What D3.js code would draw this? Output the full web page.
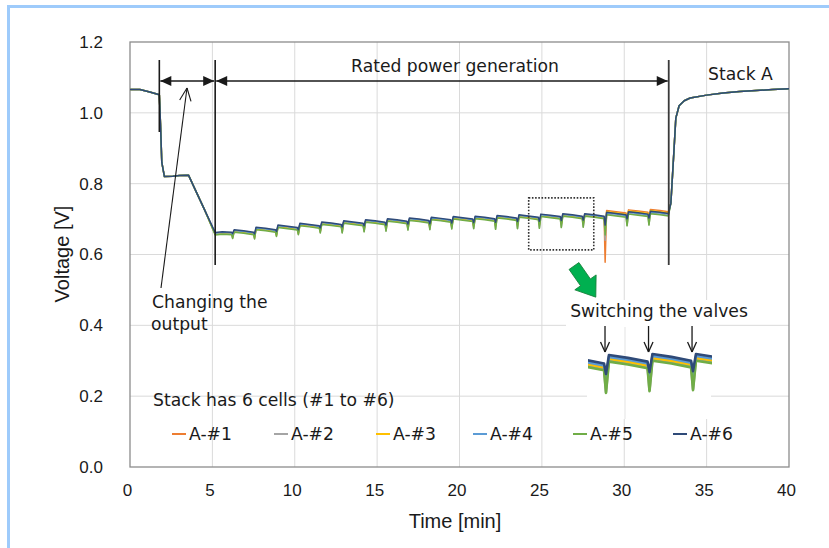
<!DOCTYPE html>
<html><head><meta charset="utf-8">
<script src="https://cdn.jsdelivr.net/npm/d3@7/dist/d3.min.js"></script>
<style>body{margin:0;background:#fff}svg{display:block}</style>
</head><body>
<svg id="chart" width="829" height="548"></svg>
<script>
// ---------- DATA ----------
const timeMin = [
  0, 0.6, 1.2, 1.78, 1.85, 1.93, 2.09, 2.6, 3.0, 3.55, 4.0, 4.5, 5.17, 5.6,
  6.17, 6.23, 6.32, 6.90,   7.50, 7.56, 7.65, 8.23,   8.83, 8.89, 8.98, 9.56,
  10.16, 10.22, 10.31, 10.89, 11.49, 11.55, 11.64, 12.22, 12.82, 12.88, 12.97, 13.55,
  14.15, 14.21, 14.30, 14.88, 15.48, 15.54, 15.63, 16.21, 16.81, 16.87, 16.96, 17.54,
  18.14, 18.20, 18.29, 18.87, 19.47, 19.53, 19.62, 20.20, 20.80, 20.86, 20.95, 21.53,
  22.13, 22.19, 22.28, 22.86, 23.46, 23.52, 23.61, 24.19, 24.79, 24.85, 24.94, 25.52,
  26.12, 26.18, 26.27, 26.85, 27.45, 27.51, 27.60, 28.18, 28.78, 28.84, 28.93, 29.51,
  30.11, 30.17, 30.26, 30.84, 31.44, 31.50, 31.59, 32.17,
  32.68, 32.83, 33.0, 33.13, 33.33, 33.64, 34.0, 35.0, 36.0, 37.0, 38.0, 39.0, 40.0
];
const cellA1 = [
  1.066, 1.066, 1.059, 1.051, 0.970, 0.860, 0.820, 0.821, 0.823, 0.824, 0.779, 0.729, 0.658, 0.660,
  0.659, 0.651, 0.666, 0.663,  0.659, 0.650, 0.673, 0.670,  0.666, 0.657, 0.679, 0.676,
  0.672, 0.662, 0.684, 0.681,  0.677, 0.667, 0.688, 0.685,  0.681, 0.670, 0.691, 0.688,
  0.684, 0.673, 0.694, 0.691,  0.687, 0.675, 0.697, 0.694,  0.690, 0.678, 0.699, 0.696,
  0.692, 0.679, 0.701, 0.698,  0.694, 0.681, 0.703, 0.700,  0.696, 0.682, 0.704, 0.701,
  0.697, 0.683, 0.706, 0.703,  0.699, 0.685, 0.708, 0.705,  0.701, 0.686, 0.710, 0.707,
  0.703, 0.688, 0.711, 0.708,  0.704, 0.689, 0.711, 0.708,  0.704, 0.578, 0.724, 0.721,
  0.717, 0.704, 0.726, 0.723,  0.719, 0.706, 0.727, 0.724,
  0.721, 0.745, 0.880, 0.985, 1.020, 1.034, 1.042, 1.050, 1.056, 1.060, 1.063, 1.066, 1.068
];
const cellA2 = [
  1.066, 1.066, 1.059, 1.051, 0.970, 0.860, 0.820, 0.821, 0.823, 0.824, 0.779, 0.729, 0.657, 0.659,
  0.658, 0.646, 0.665, 0.662,  0.658, 0.645, 0.672, 0.669,  0.665, 0.652, 0.678, 0.675,
  0.671, 0.657, 0.683, 0.680,  0.676, 0.662, 0.687, 0.684,  0.680, 0.662, 0.690, 0.687,
  0.683, 0.665, 0.693, 0.690,  0.686, 0.667, 0.696, 0.693,  0.689, 0.670, 0.698, 0.695,
  0.691, 0.671, 0.700, 0.697,  0.693, 0.673, 0.702, 0.699,  0.695, 0.674, 0.703, 0.700,
  0.696, 0.672, 0.705, 0.702,  0.698, 0.674, 0.707, 0.704,  0.700, 0.675, 0.709, 0.706,
  0.702, 0.677, 0.710, 0.707,  0.703, 0.678, 0.710, 0.707,  0.703, 0.640, 0.714, 0.711,
  0.707, 0.682, 0.716, 0.713,  0.709, 0.684, 0.717, 0.714,
  0.711, 0.745, 0.880, 0.985, 1.020, 1.034, 1.042, 1.050, 1.056, 1.060, 1.063, 1.066, 1.068
];
const cellA3 = [
  1.066, 1.066, 1.059, 1.051, 0.970, 0.860, 0.820, 0.821, 0.823, 0.824, 0.779, 0.729, 0.658, 0.660,
  0.659, 0.649, 0.666, 0.663,  0.659, 0.648, 0.673, 0.670,  0.666, 0.655, 0.679, 0.676,
  0.672, 0.660, 0.684, 0.681,  0.677, 0.665, 0.688, 0.685,  0.681, 0.668, 0.691, 0.688,
  0.684, 0.671, 0.694, 0.691,  0.687, 0.673, 0.697, 0.694,  0.690, 0.676, 0.699, 0.696,
  0.692, 0.677, 0.701, 0.698,  0.694, 0.679, 0.703, 0.700,  0.696, 0.680, 0.704, 0.701,
  0.697, 0.681, 0.706, 0.703,  0.699, 0.683, 0.708, 0.705,  0.701, 0.684, 0.710, 0.707,
  0.703, 0.686, 0.711, 0.708,  0.704, 0.687, 0.711, 0.708,  0.704, 0.665, 0.721, 0.718,
  0.714, 0.697, 0.723, 0.720,  0.716, 0.699, 0.724, 0.721,
  0.718, 0.745, 0.880, 0.985, 1.020, 1.034, 1.042, 1.050, 1.056, 1.060, 1.063, 1.066, 1.068
];
const cellA4 = [
  1.066, 1.066, 1.059, 1.051, 0.970, 0.860, 0.820, 0.821, 0.823, 0.824, 0.779, 0.729, 0.660, 0.662,
  0.661, 0.654, 0.668, 0.665,  0.661, 0.653, 0.675, 0.672,  0.668, 0.660, 0.681, 0.678,
  0.674, 0.665, 0.686, 0.683,  0.679, 0.670, 0.690, 0.687,  0.683, 0.673, 0.693, 0.690,
  0.686, 0.676, 0.696, 0.693,  0.689, 0.678, 0.699, 0.696,  0.692, 0.681, 0.701, 0.698,
  0.694, 0.682, 0.703, 0.700,  0.696, 0.684, 0.705, 0.702,  0.698, 0.685, 0.706, 0.703,
  0.699, 0.686, 0.708, 0.705,  0.701, 0.688, 0.710, 0.707,  0.703, 0.689, 0.712, 0.709,
  0.705, 0.691, 0.713, 0.710,  0.706, 0.692, 0.713, 0.710,  0.706, 0.675, 0.717, 0.714,
  0.710, 0.696, 0.719, 0.716,  0.712, 0.698, 0.720, 0.717,
  0.714, 0.745, 0.880, 0.985, 1.020, 1.034, 1.042, 1.050, 1.056, 1.060, 1.063, 1.066, 1.068
];
const cellA5 = [
  1.066, 1.066, 1.059, 1.051, 0.970, 0.860, 0.820, 0.821, 0.823, 0.824, 0.779, 0.729, 0.655, 0.657,
  0.656, 0.645, 0.663, 0.660,  0.656, 0.644, 0.670, 0.667,  0.663, 0.651, 0.676, 0.673,
  0.669, 0.656, 0.681, 0.678,  0.674, 0.661, 0.685, 0.682,  0.678, 0.661, 0.688, 0.685,
  0.681, 0.664, 0.691, 0.688,  0.684, 0.666, 0.694, 0.691,  0.687, 0.669, 0.696, 0.693,
  0.689, 0.670, 0.698, 0.695,  0.691, 0.672, 0.700, 0.697,  0.693, 0.673, 0.701, 0.698,
  0.694, 0.671, 0.703, 0.700,  0.696, 0.673, 0.705, 0.702,  0.698, 0.674, 0.707, 0.704,
  0.700, 0.676, 0.708, 0.705,  0.701, 0.677, 0.708, 0.705,  0.701, 0.655, 0.712, 0.709,
  0.705, 0.681, 0.714, 0.711,  0.707, 0.683, 0.715, 0.712,
  0.709, 0.745, 0.880, 0.985, 1.020, 1.034, 1.042, 1.050, 1.056, 1.060, 1.063, 1.066, 1.068
];
const cellA6 = [
  1.066, 1.066, 1.059, 1.051, 0.970, 0.860, 0.820, 0.821, 0.823, 0.824, 0.779, 0.729, 0.662, 0.664,
  0.663, 0.659, 0.670, 0.667,  0.663, 0.658, 0.677, 0.674,  0.670, 0.665, 0.683, 0.680,
  0.676, 0.670, 0.688, 0.685,  0.681, 0.675, 0.692, 0.689,  0.685, 0.678, 0.695, 0.692,
  0.688, 0.681, 0.698, 0.695,  0.691, 0.683, 0.701, 0.698,  0.694, 0.686, 0.703, 0.700,
  0.696, 0.687, 0.705, 0.702,  0.698, 0.689, 0.707, 0.704,  0.700, 0.690, 0.708, 0.705,
  0.701, 0.691, 0.710, 0.707,  0.703, 0.693, 0.712, 0.709,  0.705, 0.694, 0.714, 0.711,
  0.707, 0.696, 0.715, 0.712,  0.708, 0.697, 0.715, 0.712,  0.708, 0.683, 0.719, 0.716,
  0.712, 0.701, 0.721, 0.718,  0.714, 0.703, 0.722, 0.719,
  0.716, 0.745, 0.880, 0.985, 1.020, 1.034, 1.042, 1.050, 1.056, 1.060, 1.063, 1.066, 1.068
];
const seriesNames = ["A-#1", "A-#2", "A-#3", "A-#4", "A-#5", "A-#6"];
const seriesValues = [cellA1, cellA2, cellA3, cellA4, cellA5, cellA6];
const xTickValues = [0, 5, 10, 15, 20, 25, 30, 35, 40];
const yTickValues = [0.0, 0.2, 0.4, 0.6, 0.8, 1.0, 1.2];
const markerTimes = [1.78, 5.17, 32.7];       // vertical annotation lines
const valveTimes = [24.82, 26.15, 27.48];     // valve switching (inset arrows)
const zoomBox = {t0: 24.2, t1: 28.15, v0: 0.613, v1: 0.76};

// ---------- STYLE ----------
const colors = ["#ed7d31", "#a5a5a5", "#ffc000", "#5b9bd5", "#70ad47", "#2f4a78"];
const textFont = "'DejaVu Sans',sans-serif";
const tickFont = "'Liberation Sans',Arial,sans-serif";
const annSize = 17.2;

const svg = d3.select("#chart");
const W = 829, H = 548;
const plot = {left: 130, right: 789, top: 42, bottom: 467};

// outer blue frame
svg.append("rect").attr("x", 7).attr("y", 5).attr("width", 3).attr("height", H - 5).attr("fill", "#9ecbfb");
svg.append("rect").attr("x", 7).attr("y", 5).attr("width", W - 7).attr("height", 3).attr("fill", "#9ecbfb");

const x = d3.scaleLinear().domain([0, 40]).range([plot.left, plot.right]);
const y = d3.scaleLinear().domain([0, 1.2]).range([plot.bottom, plot.top]);

// gridlines
const grid = svg.append("g").attr("stroke", "#dadada").attr("stroke-width", 1);
xTickValues.slice(1, -1).forEach(t => grid.append("line")
  .attr("x1", x(t)).attr("x2", x(t)).attr("y1", plot.top).attr("y2", plot.bottom));
yTickValues.slice(1, -1).forEach(v => grid.append("line")
  .attr("x1", plot.left).attr("x2", plot.right).attr("y1", y(v)).attr("y2", y(v)));

// axes (labels only)
const xAxis = svg.append("g").attr("transform", `translate(0,${plot.bottom})`)
  .call(d3.axisBottom(x).tickValues(xTickValues).tickSize(0).tickPadding(17).tickFormat(d3.format("d")));
const yAxis = svg.append("g").attr("transform", `translate(${plot.left},0)`)
  .call(d3.axisLeft(y).tickValues(yTickValues).tickSize(0).tickPadding(27).tickFormat(d3.format(".1f")));
[xAxis, yAxis].forEach(a => {
  a.select(".domain").remove();
  a.selectAll("text").attr("font-family", tickFont).attr("font-size", 17).attr("fill", "#1a1a1a");
});
xAxis.selectAll("text").attr("dx", -3);

// frame
svg.append("rect").attr("x", plot.left).attr("y", plot.top)
  .attr("width", plot.right - plot.left).attr("height", plot.bottom - plot.top)
  .attr("fill", "none").attr("stroke", "#8c8c8c").attr("stroke-width", 1.3);

// axis titles
svg.append("text").attr("x", 455).attr("y", 528).attr("text-anchor", "middle")
  .attr("font-family", tickFont).attr("font-size", 20).attr("fill", "#1a1a1a").text("Time [min]");
svg.append("text").attr("transform", "translate(69,254) rotate(-90)").attr("text-anchor", "middle")
  .attr("font-family", tickFont).attr("font-size", 20).attr("fill", "#1a1a1a").text("Voltage [V]");

// series
const line = d3.line().x((d, i) => x(timeMin[i])).y(d => y(d));
const lines = svg.append("g").attr("fill", "none").attr("stroke-linejoin", "round");
seriesValues.forEach((vals, k) => lines.append("path").attr("d", line(vals))
  .attr("stroke", colors[k]).attr("stroke-width", 1.5));

// ---------- annotations ----------
const ink = "#1a1a1a";
const ann = svg.append("g");
const arrowY = 81;
// vertical marker lines
ann.append("line").attr("x1", x(markerTimes[0])).attr("x2", x(markerTimes[0])).attr("y1", 60).attr("y2", 132)
  .attr("stroke", ink).attr("stroke-width", 1.6);
ann.append("line").attr("x1", x(markerTimes[1])).attr("x2", x(markerTimes[1])).attr("y1", 60).attr("y2", 265)
  .attr("stroke", ink).attr("stroke-width", 1.6);
ann.append("line").attr("x1", x(markerTimes[2])).attr("x2", x(markerTimes[2])).attr("y1", 60).attr("y2", 265)
  .attr("stroke", "#3a3a3a").attr("stroke-width", 1.8);

function dblArrow(xa, xb, yy) {
  ann.append("line").attr("x1", xa).attr("x2", xb).attr("y1", yy).attr("y2", yy).attr("stroke", ink).attr("stroke-width", 1.3);
  const h = 11, w = 5;
  ann.append("path").attr("d", `M${xa},${yy}L${xa + h},${yy - w}L${xa + h},${yy + w}Z`).attr("fill", ink);
  ann.append("path").attr("d", `M${xb},${yy}L${xb - h},${yy - w}L${xb - h},${yy + w}Z`).attr("fill", ink);
}
dblArrow(x(markerTimes[0]) + 1, x(markerTimes[1]) - 1, arrowY);
dblArrow(x(markerTimes[1]) + 1, x(markerTimes[2]) - 1, arrowY);

function openArrow(x1, y1, x2, y2, len, ang, sw) {
  ann.append("line").attr("x1", x1).attr("y1", y1).attr("x2", x2).attr("y2", y2).attr("stroke", ink).attr("stroke-width", sw);
  const a = Math.atan2(y1 - y2, x1 - x2);
  [ang, -ang].forEach(da => ann.append("line").attr("x1", x2).attr("y1", y2)
    .attr("x2", x2 + len * Math.cos(a + da)).attr("y2", y2 + len * Math.sin(a + da))
    .attr("stroke", ink).attr("stroke-width", sw));
}
openArrow(161, 288, 187, 88, 14, 0.42, 1.1);

function label(tx, ty, str, size, anchor) {
  ann.append("text").attr("x", tx).attr("y", ty).attr("text-anchor", anchor || "start")
    .attr("dominant-baseline", "central")
    .attr("font-family", textFont).attr("font-size", size).attr("fill", ink).text(str);
}
label(455, 66, "Rated power generation", annSize, "middle");
label(708, 74, "Stack A", annSize);
label(152, 302, "Changing the", annSize);
label(151, 324, "output", annSize);

// dotted zoom box
ann.append("rect").attr("x", x(zoomBox.t0)).attr("y", y(zoomBox.v1))
  .attr("width", x(zoomBox.t1) - x(zoomBox.t0)).attr("height", y(zoomBox.v0) - y(zoomBox.v1))
  .attr("fill", "none").attr("stroke", "#333").attr("stroke-width", 1.6).attr("stroke-dasharray", "1.6,1.6");

// green block arrow
ann.append("path")
  .attr("d", "M0,-6L20,-6L20,-13L38,0L20,13L20,6L0,6Z")
  .attr("transform", "translate(574,266) rotate(55)")
  .attr("fill", "#00b050").attr("stroke", "#17803a").attr("stroke-width", 0.8);

// inset background
ann.append("rect").attr("x", 566).attr("y", 300).attr("width", 144).attr("height", 27).attr("fill", "#fff");
ann.append("rect").attr("x", 587).attr("y", 327).attr("width", 124).attr("height", 92).attr("fill", "#fff");
ann.append("line").attr("x1", 625).attr("x2", 625).attr("y1", 327).attr("y2", 419).attr("stroke", "#e3e3e3");
label(659, 311, "Switching the valves", annSize, "middle");

// inset plot
const xi = d3.scaleLinear().domain([24.30, 28.09]).range([588, 712]);
const yi = d3.scaleLinear().domain([0.64, 0.75]).range([355 + 0.074 * 950, 355 - 0.036 * 950]);
svg.append("clipPath").attr("id", "insetClip").append("rect").attr("x", 588).attr("y", 330).attr("width", 124).attr("height", 88);
const insetLine = d3.line().x((d, i) => xi(timeMin[i])).y(d => yi(d));
const ig = svg.append("g").attr("clip-path", "url(#insetClip)").attr("fill", "none").attr("stroke-linejoin", "round");
seriesValues.forEach((vals, k) => ig.append("path").attr("d", insetLine(vals))
  .attr("stroke", colors[k]).attr("stroke-width", 2.6));

valveTimes.forEach(t => openArrow(xi(t), 326, xi(t), 352, 11, 0.42, 1.3));

// legend
label(153, 400, "Stack has 6 cells (#1 to #6)", annSize);
const legendX = [172, 274, 376, 473, 573, 673];
seriesNames.forEach((n, k) => {
  const lx = legendX[k];
  ann.append("line").attr("x1", lx).attr("x2", lx + 14).attr("y1", 434).attr("y2", 434)
    .attr("stroke", colors[k]).attr("stroke-width", 2);
  label(lx + 17, 434, n, annSize);
});
</script>
</body></html>
